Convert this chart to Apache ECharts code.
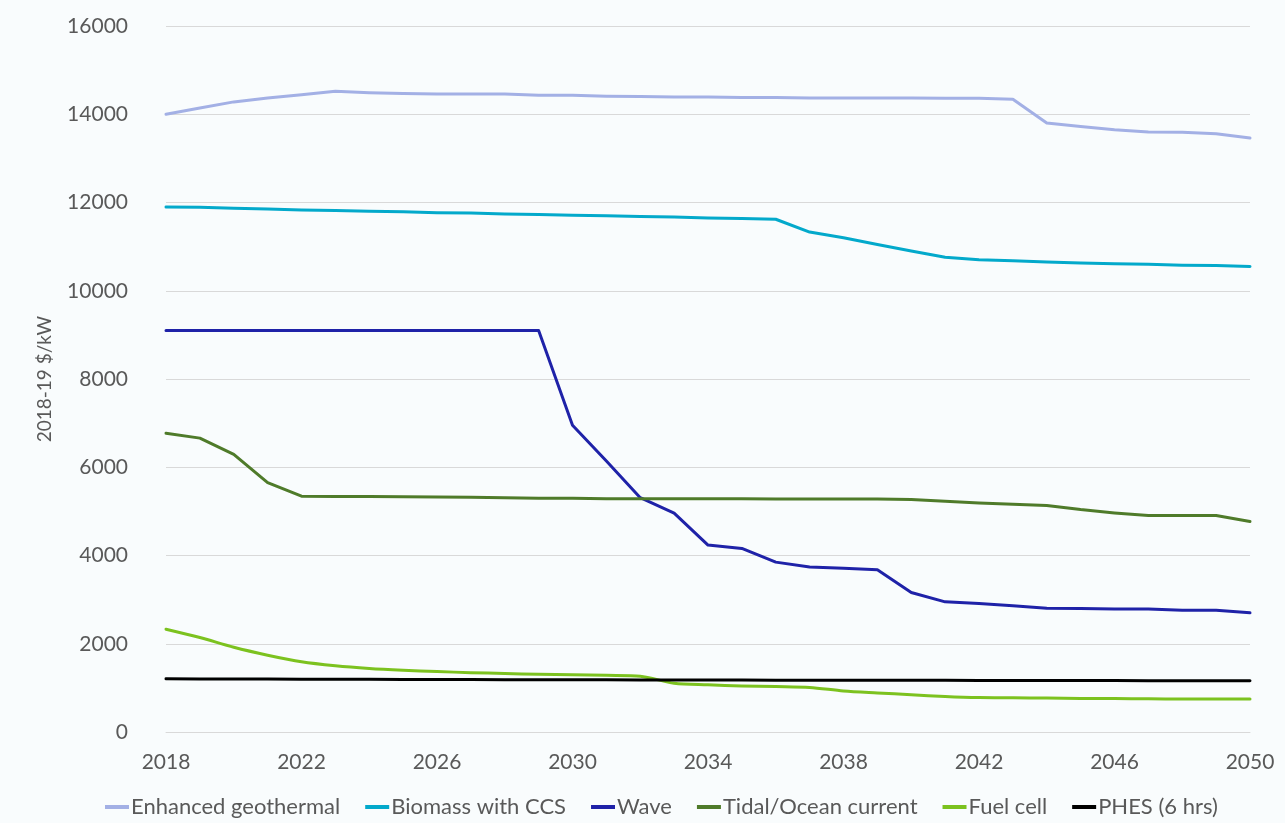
<!DOCTYPE html>
<html>
<head>
<meta charset="utf-8">
<script src="https://cdn.jsdelivr.net/npm/echarts@6/dist/echarts.min.js"></script>
<style>
  html, body { margin: 0; padding: 0; background: #f9fcfd; }
  #chart { width: 1285px; height: 823px; }
</style>
</head>
<body>
<div id="chart"></div>
<script>
var years = [];
for (var y = 2018; y <= 2050; y++) years.push(String(y));

var enhancedGeothermal = [14000, 14140, 14280, 14370, 14440, 14520, 14490, 14470, 14460, 14460, 14460,
  14430, 14430, 14410, 14400, 14390, 14390, 14380, 14380, 14370, 14370, 14370, 14370,
  14360, 14360, 14340, 13800, 13720, 13650, 13600, 13590, 13560, 13460];
var biomassCCS = [11900, 11890, 11870, 11850, 11830, 11820, 11800, 11790, 11770, 11760, 11740,
  11730, 11710, 11700, 11680, 11670, 11650, 11640, 11620, 11330, 11200, 11050, 10900,
  10760, 10700, 10680, 10650, 10630, 10610, 10600, 10580, 10570, 10550];
var wave = [9100, 9100, 9100, 9100, 9100, 9100, 9100, 9100, 9100, 9100, 9100,
  9100, 6950, 6140, 5310, 4960, 4236, 4160, 3850, 3740, 3710, 3675, 3160,
  2950, 2910, 2860, 2805, 2800, 2785, 2785, 2760, 2760, 2700];
var tidal = [6770, 6660, 6290, 5650, 5345, 5335, 5335, 5330, 5325, 5320, 5310,
  5300, 5295, 5285, 5285, 5285, 5285, 5285, 5280, 5280, 5280, 5280, 5270,
  5230, 5190, 5160, 5135, 5040, 4965, 4905, 4905, 4905, 4770];
var fuelCell = [2330, 2140, 1920, 1740, 1590, 1500, 1440, 1400, 1370, 1345, 1325,
  1310, 1300, 1285, 1265, 1105, 1070, 1045, 1030, 1010, 930, 885, 845,
  805, 780, 775, 770, 762, 758, 752, 750, 750, 750];
var phes = [1205, 1200, 1200, 1200, 1198, 1196, 1195, 1192, 1190, 1188, 1186,
  1185, 1183, 1182, 1180, 1178, 1177, 1176, 1175, 1174, 1173, 1172, 1171,
  1170, 1169, 1168, 1167, 1166, 1165, 1164, 1163, 1162, 1160];

var names = ['Enhanced geothermal', 'Biomass with CCS', 'Wave', 'Tidal/Ocean current', 'Fuel cell', 'PHES (6 hrs)'];
var colors = ['#a3b0e5', '#03a9cb', '#1f22a8', '#4f7b2a', '#7cc21f', '#000000'];
var values = [enhancedGeothermal, biomassCCS, wave, tidal, fuelCell, phes];

var chart = echarts.init(document.getElementById('chart'));
var font = 'Lato, "Open Sans", sans-serif';

var series = names.map(function (n, i) {
  return {
    name: n,
    type: 'line',
    data: values[i],
    symbol: 'none',
    smooth: n === 'Fuel cell' ? 0.3 : false,
    lineStyle: { color: colors[i], width: 3, cap: 'round', join: 'round' },
    itemStyle: { color: colors[i] },
    z: 2 + i
  };
});

chart.setOption({
  backgroundColor: '#f9fcfd',
  animation: false,
  color: colors,
  textStyle: { fontFamily: font },
  grid: { left: 166, right: 35, top: 26, bottom: 91 },
  legend: {
    bottom: 0,
    left: 100,
    icon: 'rect',
    itemWidth: 24,
    itemHeight: 4,
    itemGap: 25,
    textStyle: { fontSize: 22, color: '#595959', fontFamily: font, padding: [0, 0, 0, -3] },
    data: names
  },
  xAxis: {
    type: 'category',
    data: years,
    boundaryGap: false,
    axisLine: { show: true, lineStyle: { color: '#d9d9d9', width: 1 } },
    axisTick: { show: false },
    axisLabel: { interval: 3, color: '#595959', fontSize: 21, margin: 20 }
  },
  yAxis: {
    type: 'value',
    min: 0,
    max: 16000,
    interval: 2000,
    name: '2018-19 $/kW',
    nameLocation: 'middle',
    nameGap: 112,
    nameTextStyle: { color: '#595959', fontSize: 19 },
    axisLine: { show: false },
    axisTick: { show: false },
    axisLabel: { color: '#595959', fontSize: 21, margin: 38, formatter: function (v) { return String(v); } },
    splitLine: { lineStyle: { color: '#d9d9d9', width: 1 } }
  },
  series: series
});
</script>
</body>
</html>
